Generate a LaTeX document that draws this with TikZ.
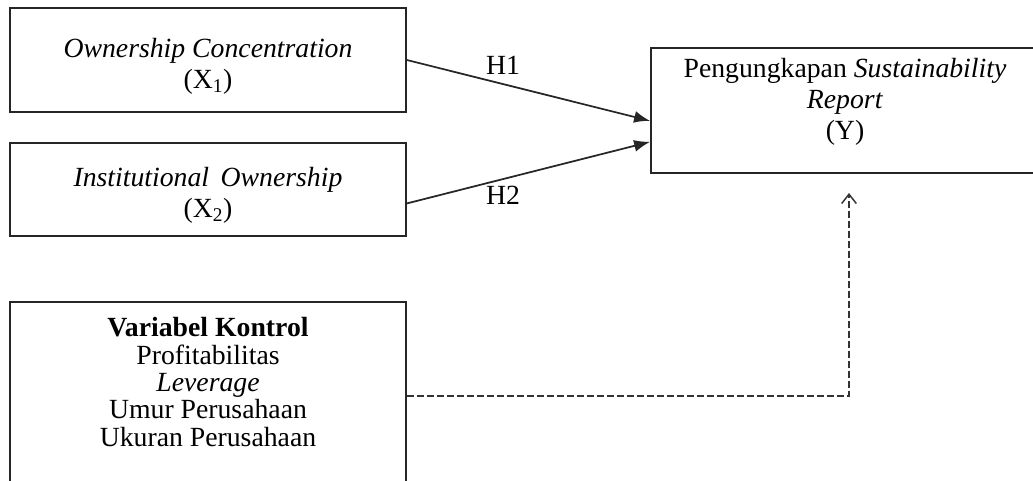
\documentclass[tikz,border=0pt]{standalone}
\usepackage{fontspec}
\setmainfont{Liberation Serif}
\usetikzlibrary{arrows.meta}
\tikzset{
    varbox/.style={draw=black!85, line width=1.35pt, rectangle, inner sep=0pt},
    lbl/.style={align=center, inner sep=0pt, font=\fontsize{20.8}{23.25}\selectfont},
    ctrllbl/.style={align=center, inner sep=0pt, font=\fontsize{20.8}{20.6}\selectfont},
    hyp/.style={draw=black!85, line width=1.3pt, -{Latex[length=12pt,width=9pt]}},
    ctrl/.style={draw=black!80, line width=1.2pt, dash pattern=on 5pt off 2.5pt,
        -{Straight Barb[length=7pt,width=11pt,line width=1.1pt]}}
}

\begin{document}
\begin{tikzpicture}[x=0.75pt, y=-0.75pt]
            \useasboundingbox (0,0) rectangle (1033,480);
            \clip (0,0) rectangle (1033,480);
            % independent variables
            \node[varbox, minimum width=297pt, minimum height=78pt] (x1) at (208,60) {};
            \node[lbl] (x1t) at (208,66) {\textit{Ownership Concentration}\\(X\textsubscript{1})};
            \node[varbox, minimum width=297pt, minimum height=69.75pt] (x2) at (208,189.5) {};
            \node[lbl] (x2t) at (208,195) {\textit{Institutional\, Ownership}\\(X\textsubscript{2})};
            % dependent variable
            \node[varbox, minimum width=295.5pt, minimum height=93.75pt] (yb) at (848,110.5) {};
            \node[lbl] (yt) at (845,102) {Pengungkapan \textit{Sustainability}\\\textit{Report}\\(Y)};
            % control variables
            \node[varbox, minimum width=297pt, minimum height=141pt] (kontrol) at (208,396) {};
            \node[ctrllbl] (kontrolt) at (208,382) {\textbf{Variabel Kontrol}\\Profitabilitas\\\textit{Leverage}\\Umur Perusahaan\\Ukuran Perusahaan};
            % hypotheses
            \draw[hyp] (x1.east) -- (yb.183);
            \draw[hyp] (x2.-4) -- (yb.189);
            \node[lbl] (h1) at (503,65) {H1};
            \node[lbl] (h2) at (503,195) {H2};
            \coordinate (tip) at (849,193);
            \draw[ctrl] (kontrol.east) -| (tip);
        \end{tikzpicture}
\end{document}
